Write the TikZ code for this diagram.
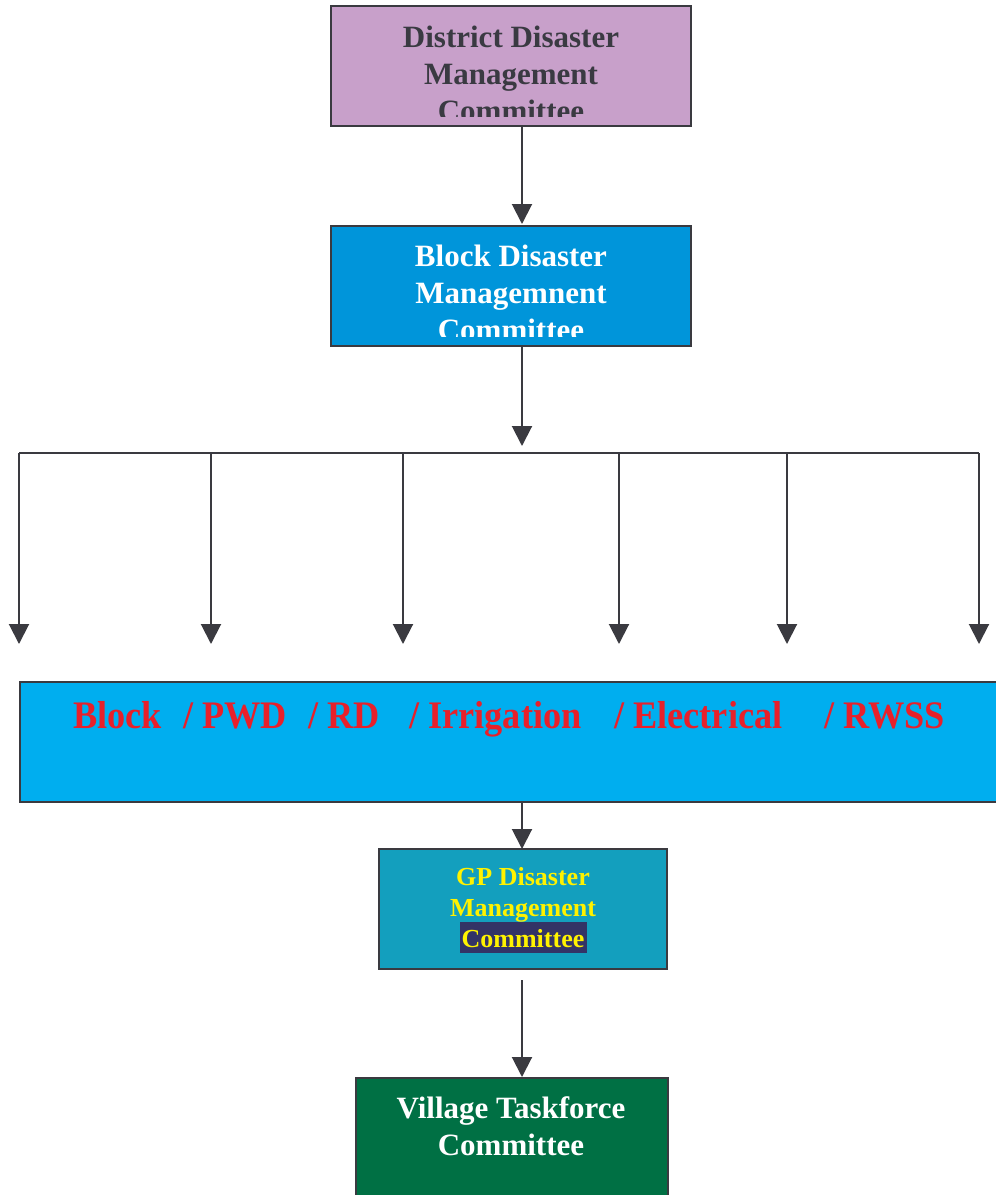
\documentclass[tikz,border=0pt]{standalone}
\usepackage{fontspec}
\setmainfont{Liberation Serif}
\usetikzlibrary{arrows.meta}
\definecolor{edge}{HTML}{3A3A40}
\definecolor{distfill}{HTML}{C8A0CA}
\definecolor{blockfill}{HTML}{0095DA}
\definecolor{widefill}{HTML}{00AEEF}
\definecolor{gpfill}{HTML}{139FBE}
\definecolor{villfill}{HTML}{007044}
\definecolor{redtxt}{HTML}{E8202A}
\definecolor{gptxt}{HTML}{FFF200}
\definecolor{hlfill}{HTML}{333366}
\definecolor{darktxt}{HTML}{3A3A42}
\begin{document}
\begin{tikzpicture}[x=1pt,y=-1pt,
  box/.style={draw=edge,line width=2pt,rectangle,inner sep=0pt},
  conn/.style={draw=edge,line width=2pt},
  arr/.style={conn,-{Triangle[width=20pt,length=20pt]}},
  big/.style={font=\fontsize{31}{37}\selectfont\bfseries,inner sep=0pt,anchor=base},
  gpt/.style={font=\fontsize{26}{31}\selectfont\bfseries,inner sep=0pt,anchor=base,text=gptxt},
  redt/.style={font=\fontsize{39}{45}\selectfont\bfseries,inner sep=0pt,anchor=base west,text=redtxt}]
\useasboundingbox (0,0) rectangle (996,1195);
\fill[white] (0,0) rectangle (996,1195);
% boxes
\node[box,fill=distfill,minimum width=360pt,minimum height=120pt] (dist) at (511,66) {};
\node[box,fill=blockfill,minimum width=360pt,minimum height=120pt] (blk) at (511,286) {};
\node[box,fill=widefill,minimum width=1000pt,minimum height=120pt,anchor=north west] (wide) at (19,681) {};
\node[box,fill=gpfill,minimum width=288pt,minimum height=120pt] (gp) at (523,909) {};
\node[box,fill=villfill,minimum width=312pt,minimum height=140pt,anchor=north west] (vill) at (355,1077) {};
% district text (clipped)
\begin{scope}
\clip (331,6) rectangle (691,116);
\node[big,text=darktxt] (d1) at (511,47) {District Disaster};
\node[big,text=darktxt] (d2) at (511,84) {Management};
\node[big,text=darktxt] (d3) at (511,121) {Committee};
\end{scope}
\begin{scope}
\clip (331,226) rectangle (691,336);
\node[big,text=white] (b1) at (511,266) {Block Disaster};
\node[big,text=white] (b2) at (511,303) {Managemnent};
\node[big,text=white] (b3) at (511,340) {Committee};
\end{scope}
% red labels
\node[redt] (r1) at (73,728) {\scalebox{0.93}[1]{Block}};
\node[redt] (r2) at (183,728) {\scalebox{0.93}[1]{/ PWD}};
\node[redt] (r3) at (308,728) {\scalebox{0.93}[1]{/ RD}};
\node[redt] (r4) at (409,728) {\scalebox{0.93}[1]{/ Irrigation}};
\node[redt] (r5) at (614,728) {\scalebox{0.93}[1]{/ Electrical}};
\node[redt] (r6) at (824,728) {\scalebox{0.93}[1]{/ RWSS}};
% GP text
\fill[hlfill] (460,922) rectangle (587,953);
\node[gpt] (g1) at (523,885) {GP Disaster};
\node[gpt] (g2) at (523,916) {Management};
\node[gpt] (g3) at (523,947) {Committee};
% village text
\node[big,text=white] (v1) at (511,1118) {Village Taskforce};
\node[big,text=white] (v2) at (511,1155) {Committee};
% connectors
\coordinate (t1) at (522,446);
\coordinate (hl) at (19,453);
\coordinate (hr) at (979,453);
\foreach \x [count=\i] in {19,211,403,619,787,979} {
  \coordinate (top\i) at (\x,453);
  \coordinate (tip\i) at (\x,644);
}
\coordinate (gpbot) at (522,980);
\coordinate (widebot) at (522,801);
\coordinate (gptop) at (522,849);
\coordinate (disbot) at (522,126);
\coordinate (blktop) at (522,224);
\coordinate (blkbot) at (522,346);
\coordinate (villtop) at (522,1077);
\draw[arr] (disbot) -- (blktop);
\draw[arr] (blkbot) -- (t1);
\draw[conn] (hl) -- (hr);
\foreach \i in {1,...,6} { \draw[arr] (top\i) -- (tip\i); }
\draw[arr] (widebot) -- (gptop);
\draw[arr] (gpbot) -- (villtop);
\end{tikzpicture}
\end{document}
